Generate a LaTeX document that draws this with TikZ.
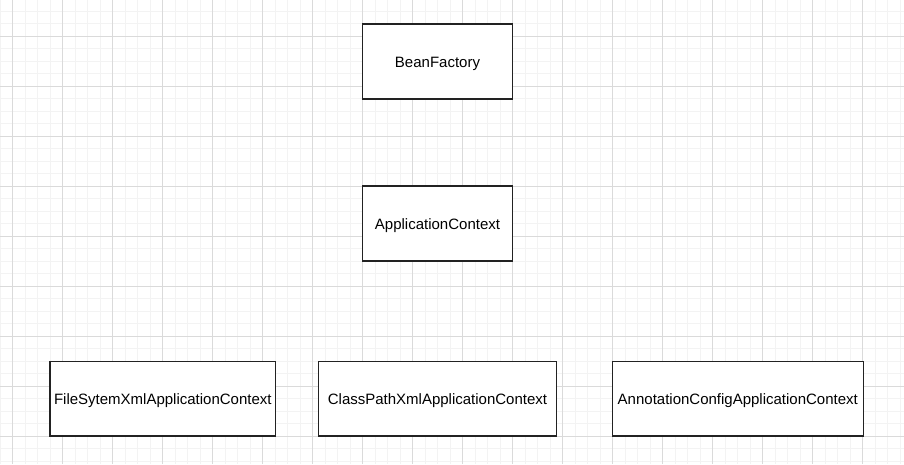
\documentclass[tikz,border=0pt]{standalone}
\usepackage{fontspec}
\setmainfont{Liberation Sans}
\definecolor{minorgrid}{HTML}{F3F3F3}
\definecolor{majorgrid}{HTML}{DADADA}
\definecolor{boxline}{HTML}{222222}
\newcommand{\lowered}[1]{\raisebox{-2pt}[\height][\depth]{#1}}
\begin{document}
\begin{tikzpicture}[x=1pt,y=-1pt,
  cls/.style={draw=boxline,line width=1.2pt,fill=white,font=\fontsize{15}{18}\selectfont,text=black,inner sep=0pt},
  ]
\useasboundingbox (0,0) rectangle (904,464);
\fill[white] (0,0) rectangle (904,464);
% minor grid
\foreach \i in {0,...,73} {\draw[minorgrid,line width=0.8pt] (\i*12.5,0) -- (\i*12.5,464);}
\foreach \j in {0,...,37} {\draw[minorgrid,line width=0.8pt] (0,-1.5+\j*12.5) -- (904,-1.5+\j*12.5);}
% major grid
\foreach \i in {0,...,18} {\draw[majorgrid,line width=0.8pt] (12.5+\i*50,0) -- (12.5+\i*50,464);}
\foreach \j in {0,...,9} {\draw[majorgrid,line width=0.8pt] (0,36+\j*50) -- (904,36+\j*50);}
% boxes
\node[cls,minimum width=150.5pt,minimum height=75pt] (bf) at (437.5,61.5) {\lowered{BeanFactory}};
\node[cls,minimum width=150.5pt,minimum height=75pt] (ac) at (437.5,223.5) {\lowered{ApplicationContext}};
\node[cls,minimum width=225.5pt,minimum height=74.5pt] (fs) at (162.8,398.8) {\lowered{FileSytemXmlApplicationContext}};
\node[cls,minimum width=238.5pt,minimum height=74.5pt] (cp) at (437.5,398.8) {\lowered{ClassPathXmlApplicationContext}};
\node[cls,minimum width=251pt,minimum height=74.5pt] (an) at (737.8,398.8) {\lowered{AnnotationConfigApplicationContext}};
\end{tikzpicture}
\end{document}
